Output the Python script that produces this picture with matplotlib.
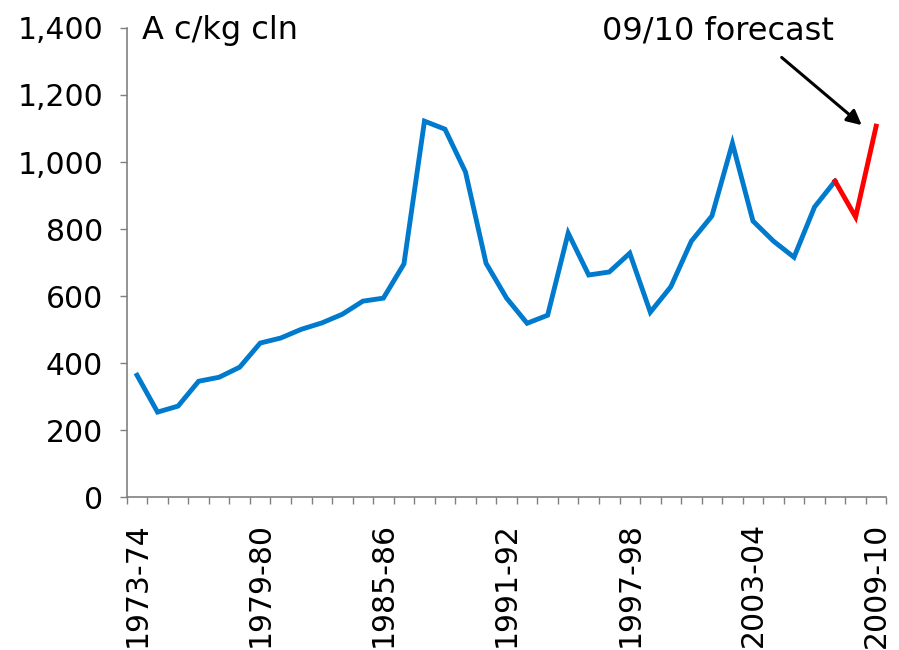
import matplotlib
matplotlib.use("Agg")
import matplotlib.pyplot as plt
from matplotlib.ticker import FuncFormatter

# Seasons 1973-74 .. 2009-10
seasons = [f"{y}-{str(y + 1)[-2:]}" for y in range(1973, 2010)]

# Actual prices, 1973-74 .. 2007-08 (A c/kg cln)
actual = [364, 254, 272, 346, 358, 388, 460, 475, 501, 520,
          546, 585, 594, 696, 1122, 1098, 970, 698, 594, 519,
          543, 788, 663, 672, 728, 552, 628, 764, 839, 1056,
          824, 764, 716, 866, 943]
# Forecast segment, 2007-08 .. 2009-10
forecast = [943, 836, 1107]

yticks = [0, 200, 400, 600, 800, 1000, 1200, 1400]
label_step = 6
fs = 21.5
fs_note = 23

plt.rcParams["font.family"] = ["DejaVu Sans"]

fig = plt.figure(figsize=(8.99, 6.5), dpi=100)
ax = fig.add_axes([0.141, 0.235, 0.845, 0.722])

xa = list(range(len(actual)))
xf = list(range(len(actual) - 1, len(actual) - 1 + len(forecast)))
ax.plot(xa, actual, color="#007ACC", lw=3.5, solid_joinstyle="miter")
ax.plot(xf, forecast, color="#FF0000", lw=3.5, solid_joinstyle="miter")

ax.set_xlim(-0.5, len(seasons) - 0.5)
ax.set_ylim(0, 1400)
ax.set_yticks(yticks)
ax.yaxis.set_major_formatter(FuncFormatter(lambda v, p: f"{int(v):,}"))

# category boundaries as tick marks, labels every sixth season
ax.set_xticks([i - 0.5 for i in range(len(seasons) + 1)])
ax.set_xticklabels([])
ax.set_xticks(list(range(0, len(seasons), label_step)), minor=True)
ax.set_xticklabels([seasons[i] for i in range(0, len(seasons), label_step)],
                   minor=True, rotation=90, fontsize=fs, va="top")
ax.tick_params(axis="x", which="minor", length=0, pad=18)
ax.tick_params(axis="x", which="major", length=5, width=1, color="#808080")
ax.tick_params(axis="y", length=5, width=1, color="#808080", labelsize=fs, pad=12)

for s in ["top", "right"]:
    ax.spines[s].set_visible(False)
for s in ["left", "bottom"]:
    ax.spines[s].set_color("#808080")
    ax.spines[s].set_linewidth(1.2)

ax.text(0.02, 1392, "A c/kg cln", transform=ax.get_yaxis_transform(),
        fontsize=fs_note, va="center", ha="left")
ax.text(28.3, 1390, "09/10 forecast", fontsize=fs_note, va="center", ha="center")
ax.annotate("", xy=(35.3, 1110), xytext=(31.4, 1312),
            arrowprops=dict(arrowstyle="-|>", lw=2.2, color="black",
                            mutation_scale=22, shrinkA=0, shrinkB=0))

fig.savefig("out.png", dpi=100)
